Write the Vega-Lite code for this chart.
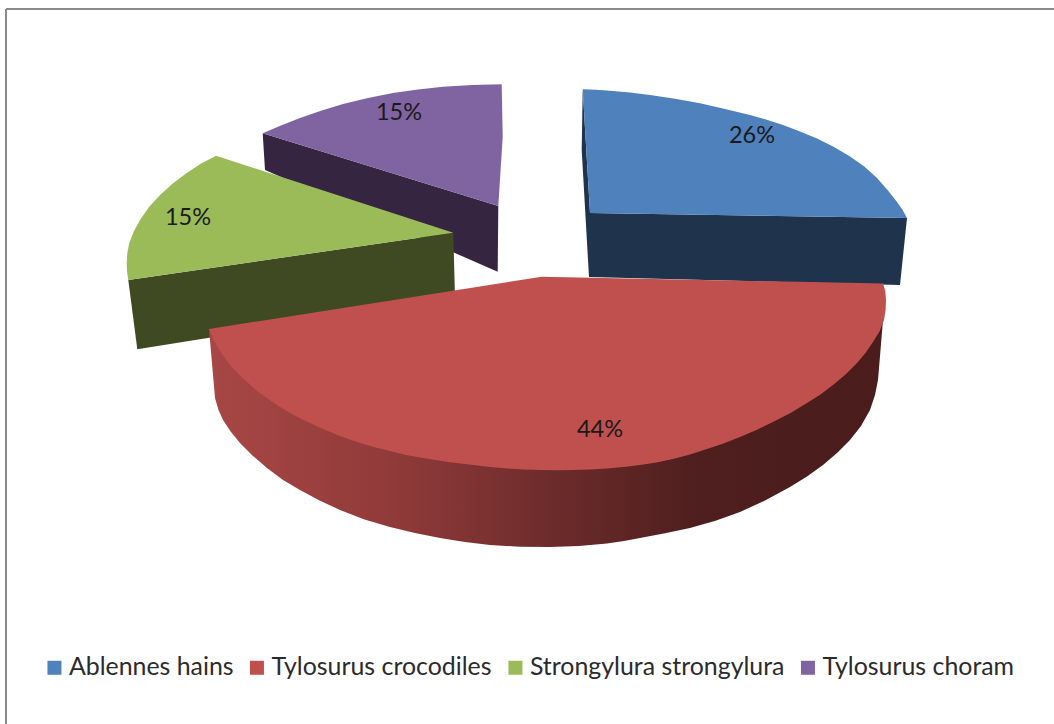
{
  "$schema": "https://vega.github.io/schema/vega-lite/v6.json",
  "width": 1054,
  "height": 724,
  "padding": 0,
  "autosize": "none",
  "background": "white",
  "view": {"stroke": null},
  "datasets": {
    "outlines": [
      {"series":"Tylosurus choram","face":"side","step":1,"x":262.7,"y":133.3},
      {"series":"Tylosurus choram","face":"side","step":2,"x":265,"y":170},
      {"series":"Tylosurus choram","face":"side","step":3,"x":497.7,"y":271.7},
      {"series":"Tylosurus choram","face":"side","step":4,"x":498.3,"y":206},

      {"series":"Strongylura strongylura","face":"side","step":1,"x":128.3,"y":280},
      {"series":"Strongylura strongylura","face":"side","step":2,"x":137.3,"y":349.3},
      {"series":"Strongylura strongylura","face":"side","step":3,"x":455,"y":298},
      {"series":"Strongylura strongylura","face":"side","step":4,"x":453.3,"y":232.7},

      {"series":"Ablennes hains","face":"side","step":1,"x":582.7,"y":89.3},
      {"series":"Ablennes hains","face":"side","step":2,"x":581.7,"y":150},
      {"series":"Ablennes hains","face":"side","step":3,"x":589,"y":277},
      {"series":"Ablennes hains","face":"side","step":4,"x":900,"y":285},
      {"series":"Ablennes hains","face":"side","step":5,"x":907,"y":218},
      {"series":"Ablennes hains","face":"side","step":6,"x":590,"y":213},

      {"series":"Tylosurus crocodiles","face":"side","step":1,"x":209,"y":329},
      {"series":"Tylosurus crocodiles","face":"side","step":2,"x":215,"y":398},
      {"series":"Tylosurus crocodiles","face":"side","step":3,"x":218.5,"y":410},
      {"series":"Tylosurus crocodiles","face":"side","step":4,"x":223,"y":420},
      {"series":"Tylosurus crocodiles","face":"side","step":5,"x":231,"y":432},
      {"series":"Tylosurus crocodiles","face":"side","step":6,"x":240,"y":443},
      {"series":"Tylosurus crocodiles","face":"side","step":7,"x":253,"y":456},
      {"series":"Tylosurus crocodiles","face":"side","step":8,"x":267,"y":468},
      {"series":"Tylosurus crocodiles","face":"side","step":9,"x":283,"y":480},
      {"series":"Tylosurus crocodiles","face":"side","step":10,"x":300,"y":490},
      {"series":"Tylosurus crocodiles","face":"side","step":11,"x":319.5,"y":500.5},
      {"series":"Tylosurus crocodiles","face":"side","step":12,"x":340,"y":510},
      {"series":"Tylosurus crocodiles","face":"side","step":13,"x":364.5,"y":519.5},
      {"series":"Tylosurus crocodiles","face":"side","step":14,"x":390,"y":527},
      {"series":"Tylosurus crocodiles","face":"side","step":15,"x":415,"y":533},
      {"series":"Tylosurus crocodiles","face":"side","step":16,"x":440,"y":538},
      {"series":"Tylosurus crocodiles","face":"side","step":17,"x":465,"y":542},
      {"series":"Tylosurus crocodiles","face":"side","step":18,"x":490,"y":545},
      {"series":"Tylosurus crocodiles","face":"side","step":19,"x":520,"y":546.8},
      {"series":"Tylosurus crocodiles","face":"side","step":20,"x":550,"y":547},
      {"series":"Tylosurus crocodiles","face":"side","step":21,"x":579,"y":546},
      {"series":"Tylosurus crocodiles","face":"side","step":22,"x":607,"y":543.5},
      {"series":"Tylosurus crocodiles","face":"side","step":23,"x":624,"y":541},
      {"series":"Tylosurus crocodiles","face":"side","step":24,"x":640,"y":538},
      {"series":"Tylosurus crocodiles","face":"side","step":25,"x":665,"y":533.3},
      {"series":"Tylosurus crocodiles","face":"side","step":26,"x":690,"y":528},
      {"series":"Tylosurus crocodiles","face":"side","step":27,"x":715.5,"y":520.7},
      {"series":"Tylosurus crocodiles","face":"side","step":28,"x":740,"y":512},
      {"series":"Tylosurus crocodiles","face":"side","step":29,"x":765.5,"y":500.3},
      {"series":"Tylosurus crocodiles","face":"side","step":30,"x":790,"y":487},
      {"series":"Tylosurus crocodiles","face":"side","step":31,"x":807,"y":476.5},
      {"series":"Tylosurus crocodiles","face":"side","step":32,"x":823,"y":465},
      {"series":"Tylosurus crocodiles","face":"side","step":33,"x":837,"y":453},
      {"series":"Tylosurus crocodiles","face":"side","step":34,"x":850,"y":440},
      {"series":"Tylosurus crocodiles","face":"side","step":35,"x":861,"y":426},
      {"series":"Tylosurus crocodiles","face":"side","step":36,"x":870,"y":410},
      {"series":"Tylosurus crocodiles","face":"side","step":37,"x":875,"y":395},
      {"series":"Tylosurus crocodiles","face":"side","step":38,"x":878,"y":380},
      {"series":"Tylosurus crocodiles","face":"side","step":39,"x":883,"y":320},
      {"series":"Tylosurus crocodiles","face":"side","step":40,"x":800,"y":330},
      {"series":"Tylosurus crocodiles","face":"side","step":41,"x":300,"y":330},

      {"series":"Ablennes hains","face":"top","step":1,"x":582.7,"y":89.3},
      {"series":"Ablennes hains","face":"top","step":2,"x":596,"y":89.8},
      {"series":"Ablennes hains","face":"top","step":3,"x":610,"y":90.7},
      {"series":"Ablennes hains","face":"top","step":4,"x":630,"y":92.4},
      {"series":"Ablennes hains","face":"top","step":5,"x":650,"y":95},
      {"series":"Ablennes hains","face":"top","step":6,"x":675,"y":98.7},
      {"series":"Ablennes hains","face":"top","step":7,"x":700,"y":103.3},
      {"series":"Ablennes hains","face":"top","step":8,"x":725,"y":109},
      {"series":"Ablennes hains","face":"top","step":9,"x":750,"y":115},
      {"series":"Ablennes hains","face":"top","step":10,"x":767.5,"y":119.9},
      {"series":"Ablennes hains","face":"top","step":11,"x":783,"y":125},
      {"series":"Ablennes hains","face":"top","step":12,"x":800,"y":131.5},
      {"series":"Ablennes hains","face":"top","step":13,"x":817,"y":138.5},
      {"series":"Ablennes hains","face":"top","step":14,"x":834,"y":147},
      {"series":"Ablennes hains","face":"top","step":15,"x":850,"y":156.5},
      {"series":"Ablennes hains","face":"top","step":16,"x":864.3,"y":166.5},
      {"series":"Ablennes hains","face":"top","step":17,"x":877,"y":178},
      {"series":"Ablennes hains","face":"top","step":18,"x":888,"y":190.4},
      {"series":"Ablennes hains","face":"top","step":19,"x":897,"y":202},
      {"series":"Ablennes hains","face":"top","step":20,"x":902.5,"y":209.8},
      {"series":"Ablennes hains","face":"top","step":21,"x":907,"y":218},
      {"series":"Ablennes hains","face":"top","step":22,"x":590,"y":213},

      {"series":"Tylosurus crocodiles","face":"top","step":1,"x":541.7,"y":276.7},
      {"series":"Tylosurus crocodiles","face":"top","step":2,"x":883,"y":283.5},
      {"series":"Tylosurus crocodiles","face":"top","step":3,"x":885.3,"y":291},
      {"series":"Tylosurus crocodiles","face":"top","step":4,"x":886,"y":300},
      {"series":"Tylosurus crocodiles","face":"top","step":5,"x":885.6,"y":310},
      {"series":"Tylosurus crocodiles","face":"top","step":6,"x":884,"y":320},
      {"series":"Tylosurus crocodiles","face":"top","step":7,"x":879.5,"y":331.5},
      {"series":"Tylosurus crocodiles","face":"top","step":8,"x":873,"y":342},
      {"series":"Tylosurus crocodiles","face":"top","step":9,"x":865.5,"y":353},
      {"series":"Tylosurus crocodiles","face":"top","step":10,"x":857,"y":363},
      {"series":"Tylosurus crocodiles","face":"top","step":11,"x":845.5,"y":374.5},
      {"series":"Tylosurus crocodiles","face":"top","step":12,"x":833,"y":385},
      {"series":"Tylosurus crocodiles","face":"top","step":13,"x":820.5,"y":394.5},
      {"series":"Tylosurus crocodiles","face":"top","step":14,"x":807,"y":403},
      {"series":"Tylosurus crocodiles","face":"top","step":15,"x":790.5,"y":413},
      {"series":"Tylosurus crocodiles","face":"top","step":16,"x":773,"y":422},
      {"series":"Tylosurus crocodiles","face":"top","step":17,"x":756.5,"y":430},
      {"series":"Tylosurus crocodiles","face":"top","step":18,"x":740,"y":437},
      {"series":"Tylosurus crocodiles","face":"top","step":19,"x":723.5,"y":443.5},
      {"series":"Tylosurus crocodiles","face":"top","step":20,"x":707,"y":449},
      {"series":"Tylosurus crocodiles","face":"top","step":21,"x":690,"y":454.5},
      {"series":"Tylosurus crocodiles","face":"top","step":22,"x":673,"y":459},
      {"series":"Tylosurus crocodiles","face":"top","step":23,"x":656.5,"y":462.5},
      {"series":"Tylosurus crocodiles","face":"top","step":24,"x":640,"y":465},
      {"series":"Tylosurus crocodiles","face":"top","step":25,"x":623.5,"y":467},
      {"series":"Tylosurus crocodiles","face":"top","step":26,"x":607,"y":468.5},
      {"series":"Tylosurus crocodiles","face":"top","step":27,"x":590,"y":469.5},
      {"series":"Tylosurus crocodiles","face":"top","step":28,"x":573,"y":470},
      {"series":"Tylosurus crocodiles","face":"top","step":29,"x":556.5,"y":470.3},
      {"series":"Tylosurus crocodiles","face":"top","step":30,"x":540,"y":470},
      {"series":"Tylosurus crocodiles","face":"top","step":31,"x":523.5,"y":469.5},
      {"series":"Tylosurus crocodiles","face":"top","step":32,"x":507,"y":468.5},
      {"series":"Tylosurus crocodiles","face":"top","step":33,"x":490,"y":467},
      {"series":"Tylosurus crocodiles","face":"top","step":34,"x":473,"y":465},
      {"series":"Tylosurus crocodiles","face":"top","step":35,"x":448,"y":462},
      {"series":"Tylosurus crocodiles","face":"top","step":36,"x":423,"y":458},
      {"series":"Tylosurus crocodiles","face":"top","step":37,"x":406,"y":455},
      {"series":"Tylosurus crocodiles","face":"top","step":38,"x":390,"y":451},
      {"series":"Tylosurus crocodiles","face":"top","step":39,"x":373.5,"y":447},
      {"series":"Tylosurus crocodiles","face":"top","step":40,"x":357,"y":442},
      {"series":"Tylosurus crocodiles","face":"top","step":41,"x":340,"y":436},
      {"series":"Tylosurus crocodiles","face":"top","step":42,"x":323,"y":429},
      {"series":"Tylosurus crocodiles","face":"top","step":43,"x":306.5,"y":421.5},
      {"series":"Tylosurus crocodiles","face":"top","step":44,"x":290,"y":413},
      {"series":"Tylosurus crocodiles","face":"top","step":45,"x":273,"y":402.5},
      {"series":"Tylosurus crocodiles","face":"top","step":46,"x":257,"y":391},
      {"series":"Tylosurus crocodiles","face":"top","step":47,"x":243,"y":378.5},
      {"series":"Tylosurus crocodiles","face":"top","step":48,"x":230,"y":365},
      {"series":"Tylosurus crocodiles","face":"top","step":49,"x":223,"y":355.5},
      {"series":"Tylosurus crocodiles","face":"top","step":50,"x":217,"y":346},
      {"series":"Tylosurus crocodiles","face":"top","step":51,"x":212.8,"y":337.5},
      {"series":"Tylosurus crocodiles","face":"top","step":52,"x":209,"y":329},

      {"series":"Strongylura strongylura","face":"top","step":1,"x":216,"y":155.7},
      {"series":"Strongylura strongylura","face":"top","step":2,"x":200.8,"y":163.8},
      {"series":"Strongylura strongylura","face":"top","step":3,"x":186.7,"y":173},
      {"series":"Strongylura strongylura","face":"top","step":4,"x":172.8,"y":183.5},
      {"series":"Strongylura strongylura","face":"top","step":5,"x":160,"y":195},
      {"series":"Strongylura strongylura","face":"top","step":6,"x":149,"y":207},
      {"series":"Strongylura strongylura","face":"top","step":7,"x":140,"y":220},
      {"series":"Strongylura strongylura","face":"top","step":8,"x":134,"y":231},
      {"series":"Strongylura strongylura","face":"top","step":9,"x":129.3,"y":243},
      {"series":"Strongylura strongylura","face":"top","step":10,"x":127.3,"y":253},
      {"series":"Strongylura strongylura","face":"top","step":11,"x":126.7,"y":263},
      {"series":"Strongylura strongylura","face":"top","step":12,"x":127,"y":271.5},
      {"series":"Strongylura strongylura","face":"top","step":13,"x":128.3,"y":280},
      {"series":"Strongylura strongylura","face":"top","step":14,"x":453.3,"y":232.7},

      {"series":"Tylosurus choram","face":"top","step":1,"x":501.7,"y":84.3},
      {"series":"Tylosurus choram","face":"top","step":2,"x":472,"y":85},
      {"series":"Tylosurus choram","face":"top","step":3,"x":443,"y":86.7},
      {"series":"Tylosurus choram","face":"top","step":4,"x":418,"y":89.4},
      {"series":"Tylosurus choram","face":"top","step":5,"x":393,"y":93},
      {"series":"Tylosurus choram","face":"top","step":6,"x":368,"y":98},
      {"series":"Tylosurus choram","face":"top","step":7,"x":343,"y":104},
      {"series":"Tylosurus choram","face":"top","step":8,"x":321,"y":110.7},
      {"series":"Tylosurus choram","face":"top","step":9,"x":300,"y":118},
      {"series":"Tylosurus choram","face":"top","step":10,"x":281,"y":125.4},
      {"series":"Tylosurus choram","face":"top","step":11,"x":262.7,"y":133.3},
      {"series":"Tylosurus choram","face":"top","step":12,"x":498.3,"y":206},
      {"series":"Tylosurus choram","face":"top","step":13,"x":502.7,"y":136.7}
    ],
    "shares": [
      {"series":"Ablennes hains","share":0.26,"x":752,"y":136},
      {"series":"Tylosurus crocodiles","share":0.44,"x":600,"y":429.5},
      {"series":"Strongylura strongylura","share":0.15,"x":188,"y":218},
      {"series":"Tylosurus choram","share":0.15,"x":399,"y":113}
    ]
  },
  "encoding": {
    "x": {"field":"x","type":"quantitative","axis":null,"scale":{"domain":[0,1054],"nice":false,"zero":false}},
    "y": {"field":"y","type":"quantitative","axis":null,"scale":{"domain":[0,724],"nice":false,"zero":false,"reverse":true}}
  },
  "layer": [
    {
      "data": {"name":"outlines"},
      "transform": [{"filter":"datum.face === 'side' && datum.series === 'Tylosurus choram'"}],
      "mark": {"type":"line","filled":true,"color":"#352540","strokeWidth":0},
      "encoding": {"order":{"field":"step","type":"quantitative"}}
    },
    {
      "data": {"name":"outlines"},
      "transform": [{"filter":"datum.face === 'side' && datum.series === 'Strongylura strongylura'"}],
      "mark": {"type":"line","filled":true,"color":"#3f4a22","strokeWidth":0},
      "encoding": {"order":{"field":"step","type":"quantitative"}}
    },
    {
      "data": {"name":"outlines"},
      "transform": [{"filter":"datum.face === 'side' && datum.series === 'Ablennes hains'"}],
      "mark": {"type":"line","filled":true,"color":"#1f334d","strokeWidth":0},
      "encoding": {"order":{"field":"step","type":"quantitative"}}
    },
    {
      "data": {"name":"outlines"},
      "transform": [{"filter":"datum.face === 'side' && datum.series === 'Tylosurus crocodiles'"}],
      "mark": {
        "type":"line","filled":true,"strokeWidth":0,
        "color": {
          "gradient":"linear","x1":0,"y1":0,"x2":1,"y2":0,
          "stops":[
            {"offset":0,"color":"#a84745"},
            {"offset":0.28,"color":"#8f3a39"},
            {"offset":0.5,"color":"#6e2c2c"},
            {"offset":0.72,"color":"#4e1f1e"},
            {"offset":1,"color":"#4a1c1b"}
          ]
        }
      },
      "encoding": {"order":{"field":"step","type":"quantitative"}}
    },
    {
      "data": {"name":"outlines"},
      "transform": [{"filter":"datum.face === 'top'"}],
      "mark": {"type":"line","filled":true,"strokeWidth":0},
      "encoding": {
        "order":{"field":"step","type":"quantitative"},
        "color": {
          "field":"series","type":"nominal",
          "scale":{
            "domain":["Ablennes hains","Tylosurus crocodiles","Strongylura strongylura","Tylosurus choram"],
            "range":["#4f81bd","#c0504d","#9bbb59","#8064a2"]
          },
          "legend":{
            "title":null,"orient":"none","legendX":42,"legendY":655,
            "direction":"horizontal","columns":4,"columnPadding":10.5,
            "symbolType":"square","symbolSize":196,"symbolStrokeWidth":0,
            "labelFont":"Lato","labelFontSize":24.9,"labelColor":"#2b2b2b","labelOffset":2,
            "labelLimit":400
          }
        }
      }
    },
    {
      "data": {"name":"shares"},
      "mark": {"type":"text","font":"Lato","fontSize":23.5,"color":"#1a1a1a","align":"center","baseline":"middle"},
      "encoding": {"text":{"field":"share","type":"quantitative","format":".0%"}}
    },
    {
      "data": {"values":[{"x":6,"y":9,"y2":724}]},
      "mark": {"type":"rule","color":"#8a8a8a","strokeWidth":2},
      "encoding": {"y2":{"field":"y2"}}
    },
    {
      "data": {"values":[{"x":6,"y":9,"x2":1054}]},
      "mark": {"type":"rule","color":"#8a8a8a","strokeWidth":2},
      "encoding": {"x2":{"field":"x2"}}
    }
  ]
}
